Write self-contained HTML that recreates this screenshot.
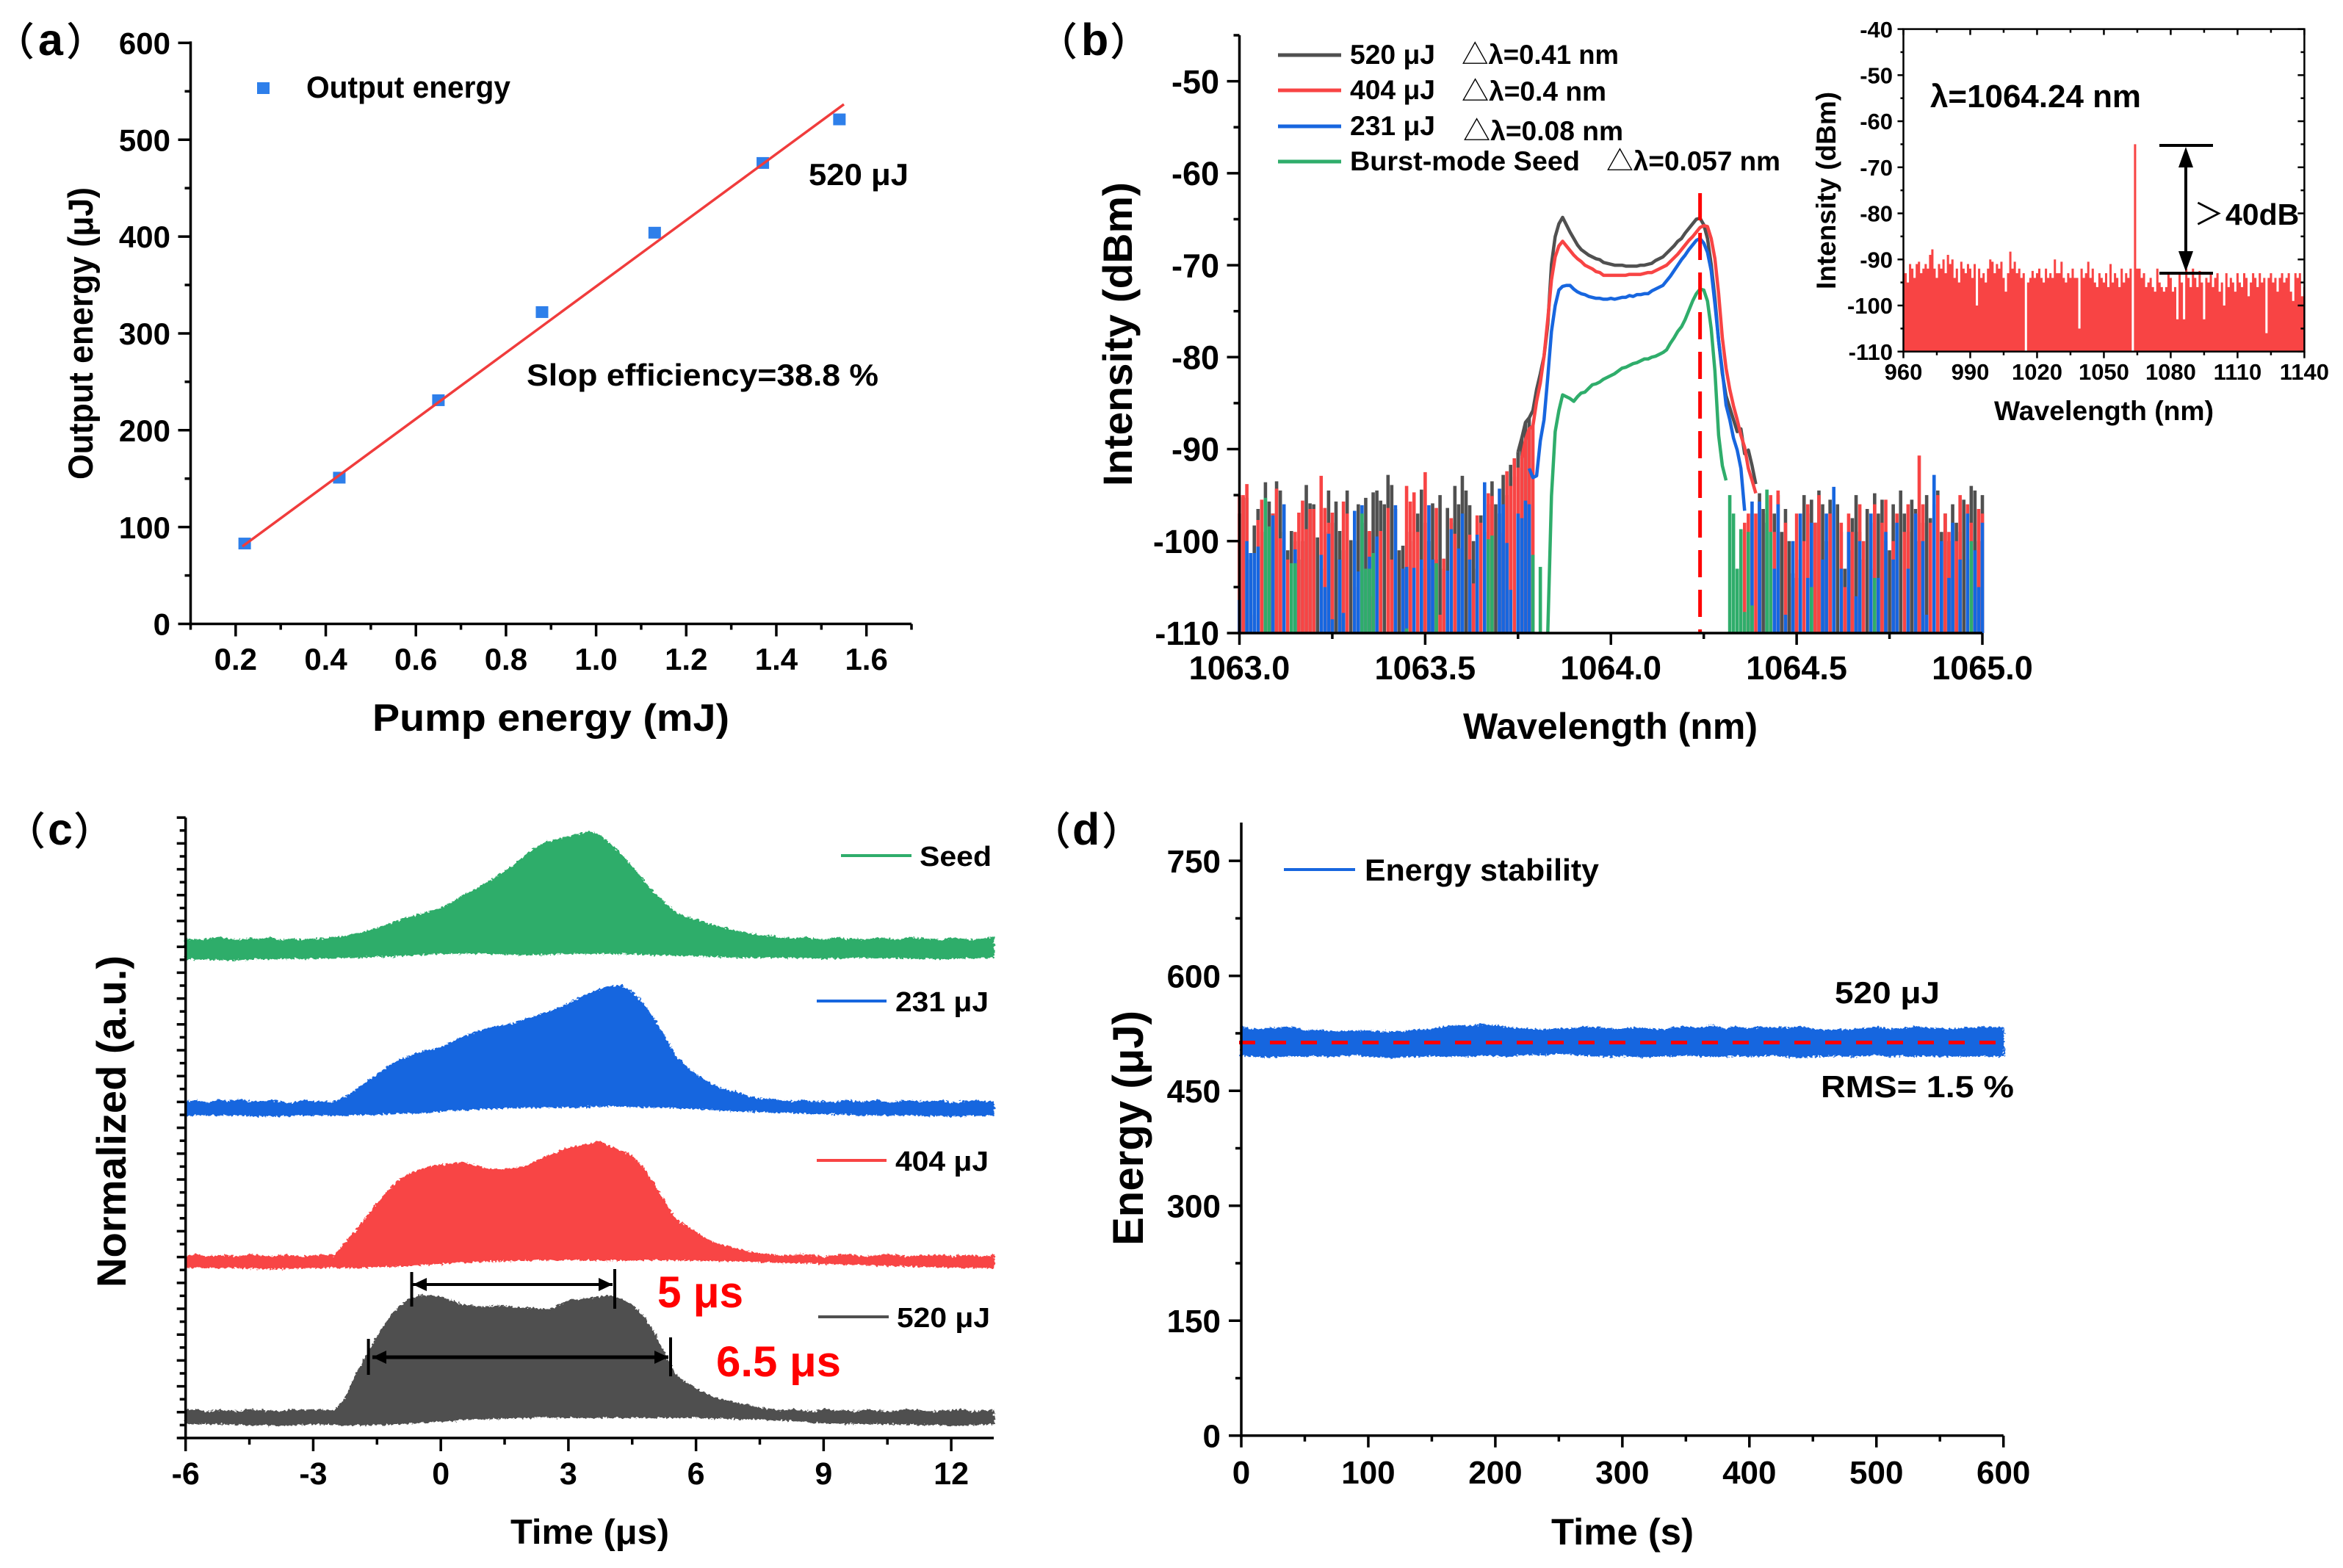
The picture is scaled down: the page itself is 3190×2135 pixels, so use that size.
<!DOCTYPE html>
<html lang="en">
<head>
<meta charset="utf-8">
<title>Laser output characteristics</title>
<style>
html,body{margin:0;padding:0;background:#fff}
svg{display:block}
text{font-family:"Liberation Sans","Noto Sans CJK SC",sans-serif;font-weight:700;fill:#000;text-spacing-trim:space-all}
.cjk{font-family:"Noto Sans CJK SC","Liberation Sans",sans-serif;font-weight:400}
.paren{font-family:"Noto Sans CJK SC","Liberation Sans",sans-serif;font-weight:400;font-size:52px;stroke:#000;stroke-width:1.2px}
.letter{font-size:61px}
</style>
</head>
<body>
<svg id="figure" xmlns="http://www.w3.org/2000/svg" width="3190" height="2135" viewBox="0 0 3190 2135">
<defs>
  <filter id="rough" filterUnits="userSpaceOnUse" x="200" y="1100" width="2600" height="900">
    <feTurbulence type="fractalNoise" baseFrequency="0.28" numOctaves="2" seed="4" result="n"/>
    <feDisplacementMap in="SourceGraphic" in2="n" scale="7" xChannelSelector="R" yChannelSelector="G"/>
  </filter>
</defs>
<rect width="3190" height="2135" fill="#fff"/>

<g id="panel-a">
  <text y="75"><tspan class="paren" x="-6" y="75">（</tspan><tspan class="letter" x="52" y="75">a</tspan><tspan class="paren" x="91" y="75">）</tspan></text>
  <text x="507" y="995" font-size="52" textLength="486" lengthAdjust="spacingAndGlyphs">Pump energy (mJ)</text>
  <text transform="translate(126,653) rotate(-90)" font-size="47" textLength="398" lengthAdjust="spacingAndGlyphs">Output energy (μJ)</text>
  <rect x="350" y="112" width="17" height="16" fill="#2E7FEA"/>
  <text x="417" y="133" font-size="42" textLength="278" lengthAdjust="spacingAndGlyphs">Output energy</text>
  <text x="1101" y="252" font-size="42" textLength="136" lengthAdjust="spacingAndGlyphs">520 μJ</text>
  <text x="717" y="525" font-size="42" textLength="479" lengthAdjust="spacingAndGlyphs">Slop efficiency=38.8 %</text>
</g>

<g id="panel-b">
  <text y="75"><tspan class="paren" x="1414" y="75">（</tspan><tspan class="letter" x="1472" y="75">b</tspan><tspan class="paren" x="1512" y="75">）</tspan></text>
  <text x="1992" y="1006" font-size="50" textLength="401" lengthAdjust="spacingAndGlyphs">Wavelength (nm)</text>
  <text transform="translate(1541,662) rotate(-90)" font-size="56" textLength="414" lengthAdjust="spacingAndGlyphs">Intensity (dBm)</text>
  <line x1="1740" x2="1826" y1="75" y2="75" stroke="#505050" stroke-width="5"/>
  <line x1="1740" x2="1826" y1="123" y2="123" stroke="#F84444" stroke-width="5"/>
  <line x1="1740" x2="1826" y1="172" y2="172" stroke="#1766DF" stroke-width="5"/>
  <line x1="1740" x2="1826" y1="220" y2="220" stroke="#2FAD6B" stroke-width="5"/>
  <text x="1838" y="87" font-size="37" textLength="116" lengthAdjust="spacingAndGlyphs">520 μJ</text>
  <text x="1990" y="87" font-size="37" textLength="214" lengthAdjust="spacingAndGlyphs"><tspan class="cjk">△</tspan>λ=0.41 nm</text>
  <text x="1838" y="135" font-size="37" textLength="116" lengthAdjust="spacingAndGlyphs">404 μJ</text>
  <text x="1990" y="137" font-size="37" textLength="197" lengthAdjust="spacingAndGlyphs"><tspan class="cjk">△</tspan>λ=0.4 nm</text>
  <text x="1838" y="184" font-size="37" textLength="116" lengthAdjust="spacingAndGlyphs">231 μJ</text>
  <text x="1992" y="191" font-size="37" textLength="218" lengthAdjust="spacingAndGlyphs"><tspan class="cjk">△</tspan>λ=0.08 nm</text>
  <text x="1838" y="232" font-size="37" textLength="313" lengthAdjust="spacingAndGlyphs">Burst-mode Seed</text>
  <text x="2187" y="232" font-size="37" textLength="237" lengthAdjust="spacingAndGlyphs"><tspan class="cjk">△</tspan>λ=0.057 nm</text>
</g>

<g id="panel-inset">
  <text x="2715" y="572" font-size="37" textLength="299" lengthAdjust="spacingAndGlyphs">Wavelength (nm)</text>
  <text transform="translate(2499,394) rotate(-90)" font-size="37" textLength="269" lengthAdjust="spacingAndGlyphs">Intensity (dBm)</text>
  <text x="2628" y="146" font-size="44" textLength="287" lengthAdjust="spacingAndGlyphs">λ=1064.24 nm</text>
  <text font-size="41"><tspan class="cjk" x="2987" y="306">＞</tspan><tspan x="3030" y="306">40dB</tspan></text>
</g>

<g id="panel-c">
  <text y="1150"><tspan class="paren" x="9" y="1150">（</tspan><tspan class="letter" x="65" y="1150">c</tspan><tspan class="paren" x="101" y="1150">）</tspan></text>
  <text x="695" y="2102" font-size="47" textLength="216" lengthAdjust="spacingAndGlyphs">Time (μs)</text>
  <text transform="translate(171,1753) rotate(-90)" font-size="56" textLength="452" lengthAdjust="spacingAndGlyphs">Normalized (a.u.)</text>
  <line x1="1145" x2="1241" y1="1165" y2="1165" stroke="#2FAD6B" stroke-width="4"/>
  <text x="1252" y="1179" font-size="38" textLength="98" lengthAdjust="spacingAndGlyphs">Seed</text>
  <line x1="1112" x2="1207" y1="1363" y2="1363" stroke="#1766DF" stroke-width="4"/>
  <text x="1219" y="1377" font-size="38" textLength="127" lengthAdjust="spacingAndGlyphs">231 μJ</text>
  <line x1="1112" x2="1207" y1="1580" y2="1580" stroke="#F84444" stroke-width="4"/>
  <text x="1219" y="1594" font-size="38" textLength="127" lengthAdjust="spacingAndGlyphs">404 μJ</text>
  <line x1="1114" x2="1210" y1="1793" y2="1793" stroke="#505050" stroke-width="4"/>
  <text x="1221" y="1807" font-size="38" textLength="127" lengthAdjust="spacingAndGlyphs">520 μJ</text>
</g>

<g id="panel-d">
  <text y="1150"><tspan class="paren" x="1405" y="1150">（</tspan><tspan class="letter" x="1460" y="1150">d</tspan><tspan class="paren" x="1501" y="1150">）</tspan></text>
  <text x="2112" y="2103" font-size="50" textLength="194" lengthAdjust="spacingAndGlyphs">Time (s)</text>
  <text transform="translate(1556,1696) rotate(-90)" font-size="58" textLength="320" lengthAdjust="spacingAndGlyphs">Energy (μJ)</text>
  <line x1="1748" x2="1845" y1="1184" y2="1184" stroke="#1766DF" stroke-width="4"/>
  <text x="1858" y="1199" font-size="42" textLength="319" lengthAdjust="spacingAndGlyphs">Energy stability</text>
  <text x="2498" y="1366" font-size="42" textLength="143" lengthAdjust="spacingAndGlyphs">520 μJ</text>
  <text x="2479" y="1494" font-size="42" textLength="263" lengthAdjust="spacingAndGlyphs">RMS= 1.5 %</text>
</g>
</svg>

<script>
/* ---------- panel (a) data ---------- */
const pumpEnergy = [0.22, 0.43, 0.65, 0.88, 1.13, 1.37, 1.54];
const outputEnergy = [83, 151, 231, 322, 404, 476, 521];
const fitPump = [0.215, 1.55];
const fitOutput = [80, 536.6];
const aXTicks = [0.2, 0.4, 0.6, 0.8, 1.0, 1.2, 1.4, 1.6];
const aXTickLabels = ['0.2', '0.4', '0.6', '0.8', '1.0', '1.2', '1.4', '1.6'];
const aXMinor = [0.1, 0.3, 0.5, 0.7, 0.9, 1.1, 1.3, 1.5, 1.7];
const aYTicks = [0, 100, 200, 300, 400, 500, 600];
const aYMinor = [50, 150, 250, 350, 450, 550];

/* ---------- panel (b) data: dBm sampled every 0.01 nm ---------- */
const bXTicks = [1063, 1063.5, 1064, 1064.5, 1065];
const bXTickLabels = ['1063.0', '1063.5', '1064.0', '1064.5', '1065.0'];
const bXMinor = [1063.25, 1063.75, 1064.25, 1064.75];
const bYTicks = [-110, -100, -90, -80, -70, -60, -50];
const bYMinor = [-105, -95, -85, -75, -65, -55, -45];
const centerWavelength = 1064.24;

const grayNoiseLeft = [-97,-95.2,-95.3,-102,-98.3,-96.5,-99,-93.6,-95.7,-97,-93.5,-94.5,-99,-101,-98.9,-100,-102,-100,-93.9,-95.9,-96,-99.6,-103,-99,-94.5,-98,-95.7,-98.9,-101,-94.5,-99.9,-100,-96,-98,-95.3,-99,-94.7,-94.5,-95.6,-96,-92.8,-93.9,-96.5,-101,-100.5,-103,-99,-100,-97,-94.4,-98,-100,-95.9,-102,-95,-103,-96.4,-98,-94,-96,-92.9,-94.5,-96.1,-100,-103,-97.2,-99,-96,-93.5,-96,-97,-92.8,-95,-91.7,-93,-90.3,-88.8,-87.1,-86.6];
const grayCoreStart = 1063.75;
const grayCore = [-90.3,-88.8,-87.1,-86.6,-85.8,-83.5,-81.8,-79.9,-76.5,-69.9,-66.9,-65.5,-64.8,-65.6,-66.4,-67.1,-67.8,-68.3,-68.6,-68.9,-69.1,-69.3,-69.4,-69.7,-69.8,-69.9,-70,-70,-70,-70.1,-70.1,-70.1,-70.1,-70,-70,-69.9,-69.8,-69.5,-69.3,-69.1,-68.7,-68.3,-67.9,-67.4,-67.1,-66.5,-66,-65.5,-65,-64.9,-65.6,-67.1,-69.9,-73.6,-78.2,-81.8,-84.2,-85.5,-86.8,-88.1,-87.8,-90.5,-90.1,-91.8,-93.8];
const grayNoiseRight = [-94.8,-96.5,-98,-95.5,-97,-95,-99,-96.5,-100,-103.5,-104,-102,-95,-97,-95.5,-98,-94.5,-96,-100,-95.5,-97,-96,-99,-103,-101,-97.5,-95,-99,-102,-96.5,-98,-94.8,-97,-95.5,-100,-101,-96,-98,-94.5,-97,-99,-95.5,-96.5,-100,-98,-95,-97.5,-96,-94.5,-99,-97,-100,-96,-98,-99,-95.5,-102,-94,-94.5,-100,-95];

const redNoiseLeft = [-95,-95,-93.8,-110,-108,-97.7,-95.5,-110,-102,-97,-94.3,-99.7,-100,-102,-110,-99,-96.9,-95.6,-98.7,-96.5,-96.5,-110,-92.9,-96.4,-98,-96.9,-110,-110,-95.7,-97,-110,-105,-110,-110,-110,-98.9,-106,-110,-98.9,-110,-96.4,-102,-110,-110,-103,-94,-95.7,-94.7,-99,-103,-92.5,-103,-110,-96.4,-108,-101.9,-110,-97.5,-99.2,-110,-110,-110,-99.3,-104.6,-97.2,-98,-110,-94.8,-95.1,-110,-110,-99.1,-92.4,-94,-91,-92,-91,-89,-87.8,-87.5];
const redCoreStart = 1063.76;
const redCore = [-91,-89,-87.8,-87.5,-84.8,-82.8,-79.9,-75.9,-71.6,-69.1,-67.9,-67.4,-67.9,-68.4,-68.9,-69.3,-69.6,-70,-70.2,-70.4,-70.7,-70.8,-71.1,-71.1,-71.1,-71.1,-71.1,-71.1,-71.1,-71,-71,-71,-71,-70.9,-70.8,-70.8,-70.6,-70.4,-70.2,-70,-69.6,-69.2,-68.8,-68.3,-67.8,-67.3,-66.9,-66.4,-65.9,-65.7,-65.8,-67.1,-69.3,-73.1,-77.9,-81.2,-83.5,-85.3,-86.8,-88.5,-89.8,-92.1,-93.4,-94.8];
const redNoiseRight = [-99,-98,-97,-97,-97,-96,-110,-97,-95,-99,-94.5,-110,-98,-110,-105,-97,-110,-100,-96,-110,-98,-95,-110,-101,-97,-110,-110,-98,-105,-97,-99,-110,-96,-100,-110,-103,-96,-110,-98,-95.5,-110,-100,-97,-110,-99,-96,-110,-97,-90.7,-96,-110,-98,-102,-95,-110,-97,-99,-110,-100,-95,-110,-96,-98,-110,-96.5,-97];

const blueNoiseLeft = [-106.4,-110,-100,-101.3,-101.3,-100.6,-110,-110,-110,-97.2,-110,-110,-96,-110,-110,-100.9,-110,-110,-110,-110,-110,-110,-101.5,-105,-99.2,-108.5,-110,-102,-107.8,-110,-110,-96.7,-103.3,-96.1,-110,-101.7,-110,-99.5,-110,-110,-110,-110,-96.1,-110,-103,-102.8,-110,-102.9,-110,-102,-110,-96.1,-102,-110,-110,-110,-103.2,-98.7,-110,-100.8,-97,-110,-102,-110,-99.3,-110,-93.6,-110,-110,-110,-94.3,-96,-100.2,-105.3,-110,-97,-97.5,-95.6,-96];
const blueCoreStart = 1063.78;
const blueCore = [-92.1,-93.1,-92.9,-89.1,-86.8,-82.2,-77.2,-74.4,-72.7,-72.3,-72.2,-72.2,-72.6,-72.9,-73.1,-73.2,-73.4,-73.5,-73.6,-73.6,-73.7,-73.7,-73.6,-73.7,-73.6,-73.5,-73.5,-73.3,-73.4,-73.2,-73.2,-73.1,-73.1,-72.8,-72.6,-72.4,-72.2,-71.7,-71.2,-70.6,-70,-69.4,-68.9,-68.3,-67.8,-67.3,-67.1,-67.6,-68.6,-70.6,-74.2,-78.2,-81.5,-85.2,-86.8,-88.8,-90.1,-92.1,-96.7];
const blueNoiseRight = [-95.7,-110,-95.7,-110,-98,-110,-103,-96,-110,-108,-110,-100,-110,-97,-110,-104,-98,-110,-110,-102,-97,-110,-94.1,-110,-103,-110,-99,-110,-106,-100,-110,-110,-97,-110,-104,-110,-99,-110,-102,-98,-110,-110,-103,-110,-97,-110,-100,-108,-110,-92.8,-110,-100,-110,-104,-98,-110,-102,-110,-97,-110,-101,-105,-98];

const greenNoiseLeft = [-110,-110,-110,-110,-110,-110,-110,-95.3,-98.4,-110,-110,-110,-110,-110,-102.4,-102.4,-110,-110,-110,-110,-110,-110,-110,-110,-110,-110,-110,-110,-110,-110,-110,-110,-110,-97,-103,-103,-101.3,-110,-110,-110,-110,-110,-110,-110,-110,-109.5,-110,-110,-110,-110,-110,-110,-110,-102.4,-110,-110,-110,-110,-110,-110,-110,-110,-110,-110,-110,-110,-110,-99.8,-99.4,-110,-110,-110,-110,-110,-110,-110,-110,-110,-110,-101.5,-110,-102.8,-110];
const greenCoreStart = 1063.83;
const greenCore = [-110,-95.1,-88.1,-85.8,-84.1,-84.3,-84.5,-84.8,-84.3,-83.9,-83.8,-83.4,-83,-82.9,-82.7,-82.4,-82.2,-82,-81.8,-81.5,-81.2,-81.1,-80.9,-80.7,-80.6,-80.4,-80.2,-80.2,-80,-79.9,-79.7,-79.5,-79.2,-78.5,-77.9,-77.2,-76.7,-75.9,-74.9,-73.9,-73.1,-72.6,-72.7,-73.9,-76.9,-81.5,-88.5,-91.8,-93.4];
const greenNoiseRight = [-95,-97,-103,-98.7,-107.7,-99,-107,-110,-110,-110,-94.4,-99,-110,-110,-110,-110,-110,-110,-110,-110,-110,-110,-105,-110,-110,-110,-110,-110,-110,-110,-110,-110,-110,-110,-110,-110,-110,-110,-110,-104,-110,-110,-110,-110,-110,-110,-110,-110,-110,-110,-110,-110,-110,-110,-110,-110,-110,-110,-110,-110,-110,-110,-110,-110,-110,-100,-110,-110,-110];

/* ---------- inset data: dBm per 1 nm from 960 nm ---------- */
const insetStart = 960;
const insetDbm = [
-90,-93,-95,-91,-92,-94,-91,-90.5,-93,-92,
-91,-92,-89,-87.8,-92,-94,-91,-92,-90,-93,
-89,-91,-90,-94,-92,-95,-90.5,-92,-93,-91,
-92,-94,-91,-100,-92,-94,-93,-95,-92,-90,
-90.5,-93,-91,-92,-90.5,-94,-97,-93,-88.3,-92,
-90.5,-93,-92,-94,-93,-110,-95,-94,-92.5,-94,
-93,-92,-94,-95,-92,-94,-93,-94,-90,-93,
-93,-90.5,-94,-95,-93,-94,-92,-94,-94,-105,
-92,-94,-93,-90.5,-94,-92,-95,-96,-93,-94,
-95,-93,-96,-91,-95,-93,-94,-96,-92,-95,
-93,-94,-92,-110,-65,-92,-92,-94,-93,-96,
-95,-94,-96,-97,-92,-95,-96,-97,-96,-93,
-94,-97,-96,-103,-93,-95,-103,-92,-94,-96,
-92,-94,-96,-92.5,-95,-103,-94,-95,-93,-96,
-94,-93,-97,-95,-100,-93,-96,-94,-95,-97,
-93,-95,-96,-93,-94,-98,-95,-93,-94,-96,
-93,-95,-94,-106,-94,-93,-95,-94,-97,-94,
-93,-95,-94,-93,-97,-99,-93,-94,-93,-98,
-96];
const insetXTicks = [960, 990, 1020, 1050, 1080, 1110, 1140];
const insetXMinor = [975, 1005, 1035, 1065, 1095, 1125];
const insetYTicks = [-110, -100, -90, -80, -70, -60, -50, -40];
const insetYMinor = [-105, -95, -85, -75, -65, -55, -45];

/* ---------- panel (c) data: stacked a.u., upper every 0.25 us, lower every 1 us ---------- */
const cStart = -6;
const cUpperStep = 0.25;
const cLowerStep = 1;
const seedUpper = [38.6,38.5,38.6,38.7,38.6,38.5,38.6,38.6,38.7,38.5,38.6,38.5,38.6,38.6,38.7,38.8,39,39.2,39.4,39.7,40,40.3,40.5,40.7,41,41.4,41.9,42.3,42.8,43.3,43.8,44.4,45.1,45.7,46.1,46.3,46.5,46.7,46.9,46.6,45.9,45.1,44.2,43.2,42.2,41.4,40.7,40.3,40.1,39.8,39.6,39.4,39.2,39,38.9,38.8,38.7,38.6,38.7,38.6,38.5,38.7,38.6,38.6,38.5,38.7,38.6,38.5,38.7,38.6,38.6,38.5,38.7,38.6,38.5,38.6,38.7];
const seedLower = [37.1,37,37.1,37.1,37.2,37.3,37.5,37.5,37.4,37.5,37.5,37.4,37.3,37.2,37.2,37.1,37.2,37.1,37.1,37.2];
const blueUpper = [26,26.1,25.9,26.1,26,26.2,26,26,26.1,26,25.9,26.1,26,26,26,26.4,26.9,27.5,28.1,28.7,29.2,29.5,29.8,30,30.2,30.6,31,31.3,31.6,31.8,31.9,32.1,32.4,32.6,32.9,33.2,33.6,34,34.4,34.7,34.9,35,34.5,33.6,32.5,31.1,29.6,28.8,28.1,27.6,27.1,26.9,26.7,26.4,26.2,26.2,26.1,26,26.1,26,26,25.9,26.1,26,26,26.1,25.9,26,26.1,26,26,26.1,25.9,26,26.1,26,26];
const blueLower = [25,25,24.9,25,25,25.1,25.3,25.5,25.6,25.6,25.7,25.6,25.5,25.3,25.2,25.1,25,25,24.9,25];
const redUpper = [14.1,14.2,14,14.1,14.1,14,14.2,14.1,14,14.1,14.1,14,14.1,14.1,14.1,15.1,16,17.1,18.1,19.1,19.9,20.4,20.75,21,21.1,21.2,21.3,21.1,20.9,20.8,20.75,20.9,21,21.4,21.8,22.1,22.4,22.6,22.7,22.9,22.5,22.2,21.8,20.9,19.7,18.3,17,16.4,15.9,15.4,15,14.8,14.6,14.4,14.25,14.2,14.1,14.1,14.2,14.1,14,14.1,14.2,14.1,14,14.1,14.2,14.1,14,14.1,14.1,14.2,14,14.1,14.1,14,14.1];
const redLower = [13.2,13.2,13.1,13.2,13.2,13.3,13.5,13.7,13.75,13.8,13.75,13.8,13.75,13.7,13.6,13.5,13.4,13.3,13.2,13.2];
const grayUpper = [2.1,2.2,2,2.1,2.1,2,2.2,2.1,2.1,2,2.2,2.1,2.2,2.1,2.1,3.05,4.8,6.3,7.8,9.1,10.1,10.7,11,11,10.9,10.6,10.3,10.2,10.1,10.2,10.2,10.1,10.05,10,9.9,10.2,10.6,10.7,10.8,10.9,11,10.7,10.3,9.4,8.2,6.6,4.96,4.3,3.8,3.4,3.05,2.85,2.66,2.5,2.3,2.2,2.1,2.2,2.1,2,2.2,2.1,2.1,2,2.2,2.1,2,2.1,2.2,2.1,2,2.1,2.1,2.2,2,2.1,2.1];
const grayLower = [1.1,1.1,1,1.1,1,1.1,1.3,1.5,1.6,1.6,1.6,1.6,1.6,1.5,1.4,1.2,1.1,1.1,1,1.1];
const cXTicks = [-6, -3, 0, 3, 6, 9, 12];
const cXMinor = [-4.5, -1.5, 1.5, 4.5, 7.5, 10.5];
const cYLong = [0,2,4,6,8,10,12,14,16,18,20,22,24,26,28,30,32,34,36,38,40,42,44,46,48];
const cYShort = [1,3,5,7,9,11,13,15,17,19,21,23,25,27,29,31,33,35,37,39,41,43,45,47];

/* ---------- panel (d) data: energy envelope every 10 s ---------- */
const energyUpper = [533,530,531,532,533,528,529,527,527,528,528,527,526,528,529,530,533,535,534,536,535,532,531,530,529,531,531,533,532,531,530,532,531,529,532,533,532,535,531,533,531,533,532,532,533,531,529,530,529,531,533,530,531,533,532,531,530,532,532,533,532];
const energyLower = [496,495,494,495,496,495,496,495,496,497,495,494,493,495,495,496,495,496,495,497,496,495,497,498,497,499,498,496,496,495,496,495,494,496,495,497,496,495,495,496,495,496,496,495,494,495,495,496,495,496,497,495,496,495,496,495,496,495,496,495,496];
const energyMean = 513;
const dXTicks = [0, 100, 200, 300, 400, 500, 600];
const dXMinor = [50, 150, 250, 350, 450, 550];
const dYTicks = [0, 150, 300, 450, 600, 750];
const dYMinor = [75, 225, 375, 525, 675];

/* ---------- helpers ---------- */
const NS = 'http://www.w3.org/2000/svg';
function linear(d0, d1, r0, r1) { return v => r0 + (v - d0) / (d1 - d0) * (r1 - r0); }
function make(tag, attrs, parent) {
  const e = document.createElementNS(NS, tag);
  for (const k in attrs) e.setAttribute(k, attrs[k]);
  parent.appendChild(e);
  return e;
}
function stroke(parent, x1, y1, x2, y2, w) {
  return make('line', { x1: x1, y1: y1, x2: x2, y2: y2, stroke: '#000', 'stroke-width': w }, parent);
}
function label(parent, str, x, y, size, anchor) {
  const t = make('text', { x: x, y: y, 'font-size': size, 'text-anchor': anchor }, parent);
  t.textContent = str;
  return t;
}
function xTicks(parent, scale, y0, majors, names, minors, majorLen, minorLen, baseline, size, w) {
  majors.forEach((v, i) => {
    const tk = stroke(parent, scale(v), y0, scale(v), y0 + majorLen, w);
    
    
    const lb = label(parent, names[i], scale(v), baseline, size, 'middle');
    
    
  });
  minors.forEach(v => {
    const tk = stroke(parent, scale(v), y0, scale(v), y0 + minorLen, w);
    
    
  });
}
function yTicks(parent, scale, x0, majors, minors, majorLen, minorLen, labelX, size, w) {
  majors.forEach(v => {
    const tk = stroke(parent, x0 - majorLen, scale(v), x0, scale(v), w);
    
    
    const lb = label(parent, String(v), labelX, scale(v) + size * 0.36, size, 'end');
    
    
  });
  minors.forEach(v => {
    const tk = stroke(parent, x0 - minorLen, scale(v), x0, scale(v), w);
    
    
  });
}

/* ---------- panel (a) ---------- */
(function () {
  const g = document.getElementById('panel-a');
  const x = linear(0.1, 1.7, 259.5, 1241);
  const y = linear(0, 600, 849.5, 58.4);
  const yAxis = stroke(g, x(0.1), y(600) - 2, x(0.1), y(0) + 2, 3.5);
  
  
  const xAxis = stroke(g, x(0.1), y(0), x(1.7), y(0), 3.5);
  
  
  xTicks(g, x, y(0), aXTicks, aXTickLabels, aXMinor, 17, 8, 912, 42, 3.5);
  yTicks(g, y, x(0.1), aYTicks, aYMinor, 17, 8, 232, 42, 3.5);
  pumpEnergy.forEach((p, i) => {
    const m = make('rect', { x: x(p) - 8.5, y: y(outputEnergy[i]) - 8, width: 17, height: 16, fill: '#2E7FEA' }, g);
    
    
  });
  const fit = make('line', { x1: x(fitPump[0]), y1: y(fitOutput[0]), x2: x(fitPump[1]), y2: y(fitOutput[1]), stroke: '#F03C3C', 'stroke-width': 3.5 }, g);
  
  
})();

/* ---------- panel (b) ---------- */
(function () {
  const g = document.getElementById('panel-b');
  const x = linear(1063, 1065, 1687.5, 2699);
  const y = linear(-110, -45, 862, 48);
  function buildSticks(left, right) {
    let d = '';
    left.forEach((v, i) => { if (v > -110) d += 'M' + x(1063 + i * 0.01) + ' ' + y(-110) + 'V' + y(v); });
    right.forEach((v, i) => { if (v > -110) d += 'M' + x(1065 - (right.length - 1 - i) * 0.01) + ' ' + y(-110) + 'V' + y(v); });
    return d;
  }
  function buildCore(core, coreStart) {
    return core.map((v, i) => (i ? 'L' : 'M') + x(coreStart + i * 0.01) + ' ' + y(v)).join('');
  }
  const gLeft = make('path', { d: buildSticks(grayNoiseLeft, grayNoiseRight), fill: 'none', stroke: '#505050', 'stroke-width': 4.6 }, g);
  
  
  const gCore = make('path', { d: buildCore(grayCore, grayCoreStart), fill: 'none', stroke: '#505050', 'stroke-width': 4.5, 'stroke-linejoin': 'round' }, g);
  
  
  const rLeft = make('path', { d: buildSticks(redNoiseLeft, redNoiseRight), fill: 'none', stroke: '#F84444', 'stroke-width': 4.6 }, g);
  
  
  const rCore = make('path', { d: buildCore(redCore, redCoreStart), fill: 'none', stroke: '#F84444', 'stroke-width': 4.5, 'stroke-linejoin': 'round' }, g);
  
  
  const bLeft = make('path', { d: buildSticks(blueNoiseLeft, blueNoiseRight), fill: 'none', stroke: '#1766DF', 'stroke-width': 4.6 }, g);
  
  
  const bCore = make('path', { d: buildCore(blueCore, blueCoreStart), fill: 'none', stroke: '#1766DF', 'stroke-width': 4.5, 'stroke-linejoin': 'round' }, g);
  
  
  const sLeft = make('path', { d: buildSticks(greenNoiseLeft, greenNoiseRight), fill: 'none', stroke: '#2FAD6B', 'stroke-width': 4.6 }, g);
  
  
  const sCore = make('path', { d: buildCore(greenCore, greenCoreStart), fill: 'none', stroke: '#2FAD6B', 'stroke-width': 4.5, 'stroke-linejoin': 'round' }, g);
  
  
  const center = make('line', { x1: x(centerWavelength), x2: x(centerWavelength), y1: 263, y2: y(-110), stroke: '#FF0000', 'stroke-width': 5, 'stroke-dasharray': '37 17' }, g);
  
  
  const yAxis = stroke(g, x(1063), y(-45) , x(1063), y(-110) + 2, 3.5);
  
  
  const xAxis = stroke(g, x(1063), y(-110), x(1065), y(-110), 3.5);
  
  
  xTicks(g, x, y(-110), bXTicks, bXTickLabels, bXMinor, 16, 8, 925, 45, 3.5);
  yTicks(g, y, x(1063), bYTicks, bYMinor, 17, 8, 1660, 45, 3.5);
})();

/* ---------- inset ---------- */
(function () {
  const g = document.getElementById('panel-inset');
  const x = linear(960, 1140, 2591.5, 3137.4);
  const y = linear(-110, -40, 478.7, 39.6);
  let pts = x(960) + ',' + y(-110) + ' ';
  insetDbm.forEach((v, i) => {
    const w = insetStart + i;
    pts += x(Math.max(960, w - 0.5)) + ',' + y(v) + ' ' + x(Math.min(1140, w + 0.5)) + ',' + y(v) + ' ';
  });
  pts += x(1140) + ',' + y(-110);
  const area = make('polygon', { points: pts, fill: '#F84444' }, g);
  
  
  const frame = make('rect', { x: x(960), y: y(-40), width: x(1140) - x(960), height: y(-110) - y(-40), fill: 'none', stroke: '#000', 'stroke-width': 2.5 }, g);
  
  
  xTicks(g, x, y(-110), insetXTicks, insetXTicks.map(String), insetXMinor, 9, 5, 517, 31, 2.5);
  yTicks(g, y, x(960), insetYTicks, insetYMinor, 8, 4, 2577, 31, 2.5);
  insetYTicks.forEach(v => {
    const tk = stroke(g, x(1140) - 9, y(v), x(1140), y(v), 2.5);
    
    
  });
  insetYMinor.forEach(v => {
    const tk = stroke(g, x(1140) - 5, y(v), x(1140), y(v), 2.5);
    
    
  });
  insetXTicks.forEach(v => {
    const tk = stroke(g, x(v), y(-40), x(v), y(-40) + 8, 2.5);
    
    
  });
  insetXMinor.forEach(v => {
    const tk = stroke(g, x(v), y(-40), x(v), y(-40) + 5, 2.5);
    
    
  });
  const capTop = stroke(g, 2940, 198, 3013, 198, 4);
  
  
  const capBottom = stroke(g, 2940, 372, 3013, 372, 4);
  
  
  const shaft = stroke(g, 2976, 215, 2976, 355, 4);
  
  
  const headUp = make('polygon', { points: '2976,200 2966,228 2986,228', fill: '#000' }, g);
  
  
  const headDown = make('polygon', { points: '2976,370 2966,342 2986,342', fill: '#000' }, g);
  
  
})();

/* ---------- panel (c) ---------- */
(function () {
  const g = document.getElementById('panel-c');
  const x = linear(-6, 13, 252.7, 1353);
  const y = linear(0, 48, 1958, 1113.2);
  function band(upper, lower) {
    let pts = '';
    upper.forEach((v, i) => { pts += x(cStart + i * cUpperStep) + ',' + y(v) + ' '; });
    for (let i = lower.length - 1; i >= 0; i--) pts += x(cStart + i * cLowerStep) + ',' + y(lower[i]) + ' ';
    return pts;
  }
  const seed = make('polygon', { points: band(seedUpper, seedLower), fill: '#2FAD6B', stroke: '#2FAD6B', 'stroke-width': 1.5, filter: 'url(#rough)' }, g);
  
  
  const p231 = make('polygon', { points: band(blueUpper, blueLower), fill: '#1766DF', stroke: '#1766DF', 'stroke-width': 1.5, filter: 'url(#rough)' }, g);
  
  
  const p404 = make('polygon', { points: band(redUpper, redLower), fill: '#F84444', stroke: '#F84444', 'stroke-width': 1.5, filter: 'url(#rough)' }, g);
  
  
  const p520 = make('polygon', { points: band(grayUpper, grayLower), fill: '#505050', stroke: '#505050', 'stroke-width': 1.5, filter: 'url(#rough)' }, g);
  
  
  const yAxis = stroke(g, x(-6), y(48), x(-6), y(0) + 2, 3.5);
  
  
  const xAxis = stroke(g, x(-6) - 8, y(0), x(13), y(0), 3.5);
  
  
  xTicks(g, x, y(0), cXTicks, cXTicks.map(String), cXMinor, 18, 9, 2021, 43, 3.5);
  cYLong.forEach(v => {
    const tk = stroke(g, x(-6) - 12, y(v), x(-6), y(v), 3.5);
    
    
  });
  cYShort.forEach(v => {
    const tk = stroke(g, x(-6) - 8, y(v), x(-6), y(v), 3.5);
    
    
  });

  const a1 = stroke(g, 562, 1749, 834, 1749, 4);
  
  
  const a1l = make('polygon', { points: '562,1749 581,1740 581,1758', fill: '#000' }, g);
  
  
  const a1r = make('polygon', { points: '834,1749 815,1740 815,1758', fill: '#000' }, g);
  
  
  const b1 = stroke(g, 560.5, 1732, 560.5, 1779, 4);
  
  
  const b2 = stroke(g, 837, 1728, 837, 1782, 4);
  
  
  const a2 = stroke(g, 507, 1848, 910, 1848, 5);
  
  
  const a2l = make('polygon', { points: '507,1848 526,1839 526,1857', fill: '#000' }, g);
  
  
  const a2r = make('polygon', { points: '910,1848 891,1839 891,1857', fill: '#000' }, g);
  
  
  const b3 = stroke(g, 501.6, 1823, 501.6, 1872, 4);
  
  
  const b4 = stroke(g, 913, 1821, 913, 1874, 4);
  
  
  const t5 = make('text', { x: 895, y: 1780, 'font-size': 60, textLength: 117, lengthAdjust: 'spacingAndGlyphs', style: 'fill:#FF0000' }, g);
  t5.textContent = '5 μs';
  
  
  const t65 = make('text', { x: 975, y: 1874, 'font-size': 58, textLength: 170, lengthAdjust: 'spacingAndGlyphs', style: 'fill:#FF0000' }, g);
  t65.textContent = '6.5 μs';
  
  
})();

/* ---------- panel (d) ---------- */
(function () {
  const g = document.getElementById('panel-d');
  const x = linear(0, 600, 1690, 2727.7);
  const y = linear(0, 800, 1954.8, 1120);
  let pts = '';
  energyUpper.forEach((v, i) => { pts += x(i * 10) + ',' + y(v) + ' '; });
  for (let i = energyLower.length - 1; i >= 0; i--) pts += x(i * 10) + ',' + y(energyLower[i]) + ' ';
  const b = make('polygon', { points: pts, fill: '#1766DF', stroke: '#1766DF', 'stroke-width': 1.5, filter: 'url(#rough)' }, g);
  
  
  const mean = make('line', { x1: x(0) - 3, x2: x(600), y1: y(energyMean), y2: y(energyMean), stroke: '#FF0000', 'stroke-width': 5, 'stroke-dasharray': '22 20' }, g);
  
  
  const yAxis = stroke(g, x(0), y(800), x(0), y(0) + 2, 3.5);
  
  
  const xAxis = stroke(g, x(0), y(0), x(600), y(0), 3.5);
  
  
  xTicks(g, x, y(0), dXTicks, dXTicks.map(String), dXMinor, 16, 8, 2020, 44, 3.5);
  yTicks(g, y, x(0), dYTicks, dYMinor, 17, 8, 1662, 44, 3.5);
})();
</script>
</body>
</html>
